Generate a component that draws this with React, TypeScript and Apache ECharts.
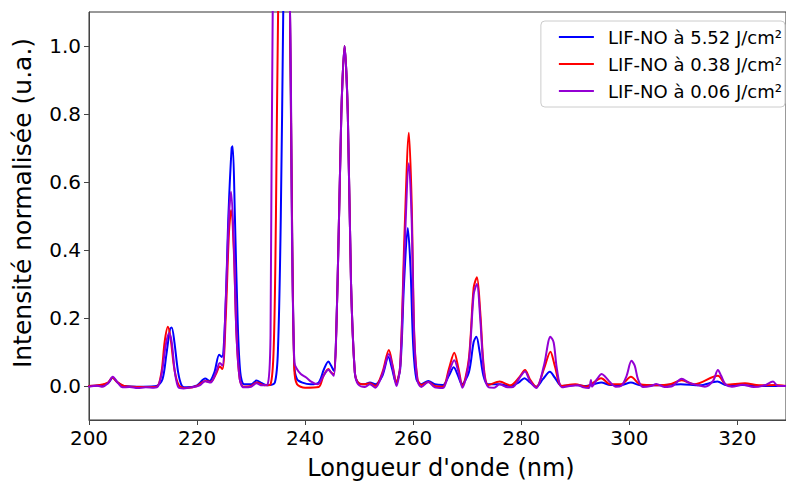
import React, { useEffect, useRef } from "react";
import * as echarts from "echarts";

const seriesNames = ["LIF-NO à 5.52 J/cm²", "LIF-NO à 0.38 J/cm²", "LIF-NO à 0.06 J/cm²"];
const seriesColors = ["#0000ff", "#ff0000", "#9400d3"];

const xTicks = [200, 220, 240, 260, 280, 300, 320];
const yTicks = [0, 0.2, 0.4, 0.6, 0.8, 1.0];

// [wavelength nm, normalized intensity]
const blue552: [number, number][] = [
  [200, 0.0], [202, 0.002], [203.5, 0.008], [204.4, 0.024], [205.3, 0.01], [206.5, 0.0], [210, -0.002], [212.5, 0.0],
  [213.6, 0.02], [214.3, 0.09], [215.0, 0.168], [215.3, 0.172], [215.8, 0.13], [216.5, 0.04], [217.2, 0.0], [218, -0.004],
  [220, 0.002], [221.5, 0.022], [222.3, 0.015], [223.2, 0.04], [224.1, 0.092], [224.6, 0.085], [225.2, 0.2], [225.8, 0.5],
  [226.4, 0.7], [226.6, 0.705], [227.0, 0.5], [227.5, 0.2], [228.0, 0.04], [228.7, 0.005], [230, 0.005], [231, 0.016],
  [232, 0.008], [233, 0.002], [234.4, 0.01], [235.0, 0.12], [235.5, 0.5], [235.95, 1.1], [236.6, 2.0], [237.2, 1.1],
  [237.6, 0.45], [238.0, 0.06], [238.5, 0.02], [239.5, 0.01], [241, 0.005], [242.5, 0.01], [243.5, 0.05], [244.3, 0.072],
  [244.8, 0.06], [245.3, 0.045], [246.0, 0.3], [246.7, 0.8], [247.3, 1.0], [247.9, 0.8], [248.5, 0.3], [249.2, 0.04],
  [249.8, 0.01], [251, 0.005], [252, 0.01], [253, 0.005], [254.3, 0.03], [255.4, 0.085], [256.1, 0.05], [256.8, 0.01],
  [257.6, 0.05], [258.3, 0.3], [259.0, 0.465], [259.5, 0.35], [260.0, 0.12], [260.6, 0.02], [261.5, 0.005], [262.8, 0.015],
  [264, 0.005], [265.5, 0.003], [266.6, 0.03], [267.5, 0.055], [268.3, 0.03], [269, 0.005], [270.3, 0.04], [271.2, 0.13],
  [271.7, 0.145], [272.3, 0.1], [273, 0.03], [273.8, 0.005], [276, 0.005], [278, 0.0], [279.5, 0.01], [280.6, 0.023],
  [281.5, 0.012], [282.8, -0.002], [284, 0.02], [285.3, 0.042], [286.2, 0.025], [287.5, 0.0], [290, 0.003], [292, 0.0],
  [294.8, 0.01], [296.5, 0.003], [298.5, 0.003], [300.3, 0.01], [302, 0.002], [305, 0.002], [309.5, 0.005], [313, 0.002],
  [316.3, 0.013], [318, 0.002], [321, 0.003], [325, 0.0], [329, 0.0],
];

const red038: [number, number][] = [
  [200, 0.0], [202, 0.003], [203.5, 0.01], [204.3, 0.025], [205.2, 0.012], [206.5, 0.0], [210, -0.003], [212.5, -0.002],
  [213.4, 0.04], [214.0, 0.13], [214.6, 0.174], [215.1, 0.14], [215.8, 0.05], [216.6, 0.003], [218, -0.006], [220, 0.0],
  [221.5, 0.015], [222.5, 0.012], [223.5, 0.035], [224.2, 0.057], [224.7, 0.05], [225.3, 0.2], [225.9, 0.45], [226.3, 0.518],
  [226.8, 0.4], [227.3, 0.15], [227.9, 0.02], [228.6, -0.002], [230, 0.0], [231, 0.01], [232.5, 0.002], [233.6, 0.005],
  [234.2, 0.12], [234.6, 0.5], [235.0, 1.1], [236.2, 2.0], [237.2, 1.1], [237.6, 0.45], [238.0, 0.05], [238.5, 0.005],
  [240, -0.005], [242.5, -0.003], [243.4, 0.03], [244.3, 0.05], [244.8, 0.04], [245.3, 0.035], [246.0, 0.3], [246.7, 0.8],
  [247.3, 1.0], [247.9, 0.8], [248.5, 0.3], [249.2, 0.04], [249.8, 0.01], [251, 0.005], [252, 0.008], [253, 0.0],
  [254.3, 0.04], [255.5, 0.106], [256.2, 0.06], [256.9, 0.01], [257.6, 0.06], [258.4, 0.45], [259.2, 0.745], [259.7, 0.55],
  [260.2, 0.15], [260.8, 0.02], [261.5, 0.003], [262.8, 0.012], [264, 0.0], [265.5, -0.002], [266.6, 0.05], [267.6, 0.098],
  [268.4, 0.05], [269.1, 0.0], [270.3, 0.08], [271.2, 0.29], [271.8, 0.32], [272.4, 0.22], [273.1, 0.05], [273.9, 0.003],
  [276, 0.013], [278, 0.002], [279.6, 0.025], [280.7, 0.047], [281.6, 0.02], [282.8, -0.003], [284.2, 0.05], [285.4, 0.101],
  [286.2, 0.06], [287.5, 0.0], [290, 0.005], [292, -0.002], [294.8, 0.023], [296.5, 0.005], [298.5, 0.005], [300.3, 0.027],
  [302, 0.005], [305, 0.002], [307.5, 0.005], [309.7, 0.017], [312, 0.005], [316.4, 0.03], [318, 0.004], [321.4, 0.008],
  [324, 0.002], [327, 0.003], [329, 0.0],
];

const purple006: [number, number][] = [
  [200, -0.002], [201.5, 0.001], [202.5, -0.002], [203.5, 0.008], [204.4, 0.027], [205.3, 0.01], [206.2, -0.004],
  [207.5, -0.003], [209, -0.006], [210.5, -0.004], [212, -0.005], [212.8, 0.0], [213.5, 0.04], [214.2, 0.12], [214.8, 0.155],
  [215.3, 0.13], [215.9, 0.04], [216.6, -0.005], [217.5, -0.007], [219, -0.004], [220.5, 0.002], [221.5, 0.014],
  [222.5, 0.01], [223.5, 0.04], [224.2, 0.068], [224.7, 0.06], [225.3, 0.25], [225.9, 0.5], [226.3, 0.571], [226.8, 0.42],
  [227.3, 0.15], [227.9, 0.02], [228.6, -0.004], [230, -0.002], [231, 0.008], [232, 0.002], [233.0, 0.003], [233.6, 0.15],
  [234.0, 1.1], [235.6, 2.0], [237.2, 1.1], [237.6, 0.4], [238.0, 0.07], [238.4, 0.052], [239.2, 0.035], [240.2, 0.025],
  [241.2, 0.012], [242.3, 0.005], [243.4, 0.03], [244.3, 0.048], [244.8, 0.04], [245.3, 0.03], [246.0, 0.3], [246.7, 0.8],
  [247.3, 1.0], [247.9, 0.8], [248.5, 0.3], [249.2, 0.04], [249.8, 0.005], [251, -0.003], [252, 0.005], [253, -0.005],
  [254.3, 0.035], [255.5, 0.094], [256.2, 0.055], [256.9, 0.0], [257.6, 0.06], [258.4, 0.4], [259.2, 0.655], [259.7, 0.5],
  [260.2, 0.14], [260.8, 0.015], [261.5, -0.003], [262.8, 0.012], [264, -0.004], [265.5, -0.006], [266.6, 0.04],
  [267.6, 0.076], [268.4, 0.04], [269.1, -0.005], [270.3, 0.07], [271.2, 0.27], [271.8, 0.3], [272.4, 0.2], [273.1, 0.04],
  [273.9, -0.003], [275, -0.005], [276, 0.005], [277.5, -0.004], [278.5, -0.003], [279.6, 0.022], [280.7, 0.043],
  [281.6, 0.015], [282.8, -0.006], [284.2, 0.06], [285.4, 0.145], [286.0, 0.128], [286.6, 0.05], [287.5, -0.004], [289, 0.0],
  [290.5, 0.002], [291.5, -0.004], [292.5, -0.006], [292.9, 0.018], [293.1, -0.002], [294.0, 0.02], [294.9, 0.035],
  [295.5, 0.028], [296.5, 0.01], [297.5, -0.002], [298.5, 0.0], [299.5, 0.03], [300.4, 0.074], [301.0, 0.06], [301.6, 0.02],
  [302.5, -0.003], [304, 0.0], [305, 0.006], [306.5, -0.003], [308, 0.0], [309.7, 0.021], [311, 0.01], [312.5, 0.003],
  [314, -0.002], [315.5, 0.015], [316.4, 0.047], [317.0, 0.03], [317.8, 0.005], [319, -0.002], [321, 0.004], [323, -0.003],
  [325, 0.002], [326.6, 0.013], [327.5, 0.0], [329, 0.0],
];

const allData = [blue552, red038, purple006];
const FONT = "DejaVu Sans";

export default function App() {
  const ref = useRef<HTMLDivElement>(null);
  useEffect(() => {
    if (!ref.current) return;
    const chart = echarts.init(ref.current, null, { renderer: "svg" });
    chart.setOption({
      animation: false,
      backgroundColor: "#ffffff",
      grid: { left: 89, right: 0, top: 12, bottom: 61, show: true, borderColor: "#333", borderWidth: 1 },
      legend: {
        orient: "vertical",
        right: 1,
        top: 21,
        padding: [7, 3, 7, 18],
        icon: "rect",
        itemWidth: 35,
        itemHeight: 2,
        itemGap: 9,
        backgroundColor: "rgba(255,255,255,0.85)",
        borderColor: "#cccccc",
        borderWidth: 1,
        borderRadius: 4,
        textStyle: { fontFamily: FONT, fontSize: 18, color: "#000", lineHeight: 18, padding: [0, 0, 0, 9] },
        data: seriesNames,
      },
      xAxis: {
        type: "value",
        min: 200,
        max: 329,
        axisLine: { show: true, onZero: false, lineStyle: { color: "#444", width: 1 } },
        axisTick: { show: true, length: 5, customValues: xTicks, lineStyle: { color: "#444" } },
        axisLabel: {
          customValues: xTicks,
          margin: 8,
          fontFamily: FONT,
          fontSize: 20,
          color: "#000",
          formatter: (v: number) => String(v),
        },
        splitLine: { show: false },
      },
      yAxis: {
        type: "value",
        min: -0.1,
        max: 1.1,
        axisLine: { show: true, onZero: false, lineStyle: { color: "#444", width: 1 } },
        axisTick: { show: true, length: 5, customValues: yTicks, lineStyle: { color: "#444" } },
        axisLabel: {
          customValues: yTicks,
          margin: 8,
          fontFamily: FONT,
          fontSize: 20,
          color: "#000",
          formatter: (v: number) => v.toFixed(1),
        },
        splitLine: { show: false },
      },
      graphic: [
        {
          type: "text",
          x: 22,
          y: 203,
          rotation: Math.PI / 2,
          style: {
            text: "Intensité normalisée (u.a.)",
            fontFamily: FONT,
            fontSize: 25,
            fill: "#000",
            textAlign: "center",
            textVerticalAlign: "middle",
          },
        },
        {
          type: "text",
          x: 441,
          y: 468,
          style: {
            text: "Longueur d'onde (nm)",
            fontFamily: FONT,
            fontSize: 24,
            fill: "#000",
            textAlign: "center",
            textVerticalAlign: "middle",
          },
        },
      ],
      series: allData.map((d, i) => ({
        name: seriesNames[i],
        type: "line",
        data: d,
        symbol: "none",
        showSymbol: false,
        clip: true,
        smooth: 0.3,
        color: seriesColors[i],
        itemStyle: { color: seriesColors[i] },
        lineStyle: { color: seriesColors[i], width: 2, join: "round", cap: "round" },
        z: 2 + i,
      })),
    });
    return () => chart.dispose();
  }, []);
  return <div ref={ref} style={{ width: 786, height: 481, position: "absolute", left: 0, top: 0 }} />;
}
